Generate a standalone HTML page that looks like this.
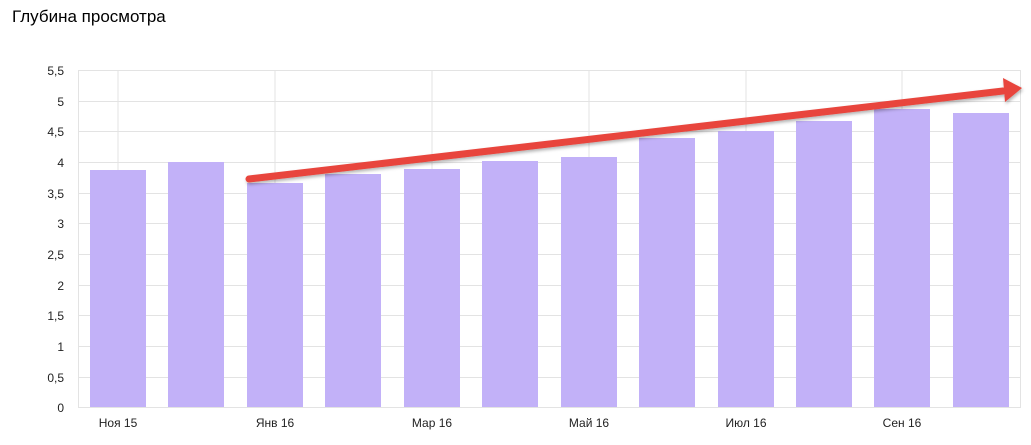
<!DOCTYPE html>
<html><head><meta charset="utf-8"><style>
body{margin:0;background:#fff;}
svg{display:block;font-family:"Liberation Sans","Noto Sans CJK SC",sans-serif;}
</style></head><body>
<svg width="1031" height="445" viewBox="0 0 1031 445">
<defs><filter id="sh" x="-5%" y="-50%" width="110%" height="200%"><feDropShadow dx="1" dy="2" stdDeviation="1.5" flood-color="#000" flood-opacity="0.3"/></filter></defs>
<text x="12" y="22" font-size="17" fill="#000">Глубина просмотра</text>
<g stroke="#e3e3e3" stroke-width="1">
<line x1="78.5" y1="70" x2="78.5" y2="407"/>
<line x1="1020.5" y1="70" x2="1020.5" y2="407"/>
<line x1="78" y1="70.5" x2="1021" y2="70.5"/>
<line x1="78" y1="101.5" x2="1021" y2="101.5"/>
<line x1="78" y1="131.5" x2="1021" y2="131.5"/>
<line x1="78" y1="162.5" x2="1021" y2="162.5"/>
<line x1="78" y1="193.5" x2="1021" y2="193.5"/>
<line x1="78" y1="223.5" x2="1021" y2="223.5"/>
<line x1="78" y1="254.5" x2="1021" y2="254.5"/>
<line x1="78" y1="285.5" x2="1021" y2="285.5"/>
<line x1="78" y1="315.5" x2="1021" y2="315.5"/>
<line x1="78" y1="346.5" x2="1021" y2="346.5"/>
<line x1="78" y1="377.5" x2="1021" y2="377.5"/>
<line x1="78" y1="407.5" x2="1021" y2="407.5"/>
<line x1="118" y1="70" x2="118" y2="407"/>
<line x1="275" y1="70" x2="275" y2="407"/>
<line x1="432" y1="70" x2="432" y2="407"/>
<line x1="589" y1="70" x2="589" y2="407"/>
<line x1="746" y1="70" x2="746" y2="407"/>
<line x1="902" y1="70" x2="902" y2="407"/>
</g>
<g font-size="12" fill="#222" text-anchor="end">
<text x="64" y="75">5,5</text><text x="64" y="106">5</text><text x="64" y="136">4,5</text>
<text x="64" y="167">4</text><text x="64" y="198">3,5</text><text x="64" y="228">3</text>
<text x="64" y="259">2,5</text><text x="64" y="290">2</text><text x="64" y="320">1,5</text>
<text x="64" y="351">1</text><text x="64" y="382">0,5</text><text x="64" y="412">0</text>
</g>
<g fill="#c2b1f8">
<rect x="90" y="170" width="56" height="237"/>
<rect x="168" y="162" width="56" height="245"/>
<rect x="247" y="183" width="56" height="224"/>
<rect x="325" y="174" width="56" height="233"/>
<rect x="404" y="169" width="56" height="238"/>
<rect x="482" y="161" width="56" height="246"/>
<rect x="561" y="157" width="56" height="250"/>
<rect x="639" y="138" width="56" height="269"/>
<rect x="718" y="131" width="56" height="276"/>
<rect x="796" y="121" width="56" height="286"/>
<rect x="874" y="109" width="56" height="298"/>
<rect x="953" y="113" width="56" height="294"/>
</g>
<g font-size="12" fill="#222" text-anchor="middle">
<text x="118" y="427">Ноя 15</text><text x="275" y="427">Янв 16</text>
<text x="432" y="427">Мар 16</text><text x="589" y="427">Май 16</text>
<text x="746" y="427">Июл 16</text><text x="902" y="427">Сен 16</text>
</g>
<g filter="url(#sh)">
<line x1="249" y1="179" x2="1003" y2="91" stroke="#e8453c" stroke-width="7" stroke-linecap="round"/>
<polygon points="1022,88 1003,78 1005,102" fill="#e8453c"/>
</g>
</svg>
</body></html>
